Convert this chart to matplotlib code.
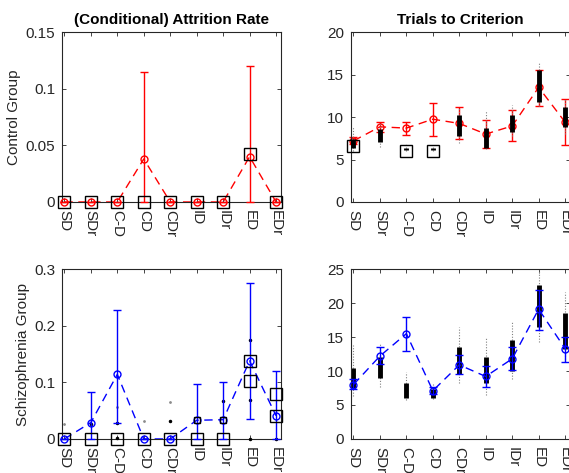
import numpy as np
import matplotlib
matplotlib.use('Agg')
from matplotlib import pyplot as plt
from matplotlib.ticker import FormatStrFormatter

plt.rcParams['font.family'] = ['Liberation Sans', 'DejaVu Sans']
plt.rcParams['font.size'] = 10

cats = ['SD', 'SDr', 'C-D', 'CD', 'CDr', 'ID', 'IDr', 'ED', 'EDr']
x = np.arange(1, len(cats) + 1)

# control group, attrition rate
ctrl_rate_mean = [0, 0, 0, 0.038, 0, 0, 0, 0.040, 0]
ctrl_rate_lo = [0, 0, 0, 0, 0, 0, 0, 0, 0]
ctrl_rate_hi = [0, 0, 0, 0.115, 0, 0, 0, 0.120, 0]
ctrl_rate_obs = [0, 0, 0, 0, 0, 0, 0, 0.042, 0]

# schizophrenia group, attrition rate
scz_rate_mean = [0, 0.029, 0.114, 0, 0, 0.033, 0.034, 0.138, 0.041]
scz_rate_lo = [0, 0, 0.029, 0, 0, 0, 0, 0.035, 0]
scz_rate_hi = [0, 0.083, 0.228, 0, 0, 0.097, 0.100, 0.275, 0.120]
scz_rate_obs_x = [1, 2, 3, 4, 5, 6, 7, 8, 8, 9, 9]
scz_rate_obs_y = [0, 0, 0, 0, 0, 0, 0, 0.138, 0.103, 0.080, 0.041]
scz_rate_small_x = [6, 7]
scz_rate_small_y = [0.033, 0.034]
scz_dot_x = [2, 3, 5, 7, 8, 8, 8, 9, 3]
scz_dot_y = [0.027, 0.029, 0.032, 0.067, 0.174, 0.068, 0.0, 0.0, 0.002]
scz_grey_x = [1, 3, 4, 5]
scz_grey_y = [0.027, 0.057, 0.032, 0.065]

# control group, trials to criterion
ctrl_tr_mean = [7.2, 8.85, 8.7, 9.75, 9.25, 8.0, 8.95, 13.5, 9.4]
ctrl_tr_lo = [6.8, 8.2, 7.9, 7.8, 7.4, 6.3, 7.2, 11.3, 6.7]
ctrl_tr_hi = [7.6, 9.4, 9.45, 11.7, 11.15, 9.7, 10.8, 15.6, 12.1]
ctrl_tr_obs_x = [1, 3, 4]
ctrl_tr_obs_y = [6.6, 6.0, 6.0]
ctrl_core_lo = [6.3, 7.1, 6.1, 6.1, 7.8, 6.4, 8.2, 11.8, 8.8]
ctrl_core_hi = [7.4, 8.6, 6.4, 6.3, 10.2, 8.7, 10.2, 15.5, 11.2]
ctrl_tail_lo = [6.0, 6.5, 6.0, 6.0, 7.0, 6.2, 7.8, 11.3, 8.0]
ctrl_tail_hi = [8.9, 9.3, 6.9, 6.7, 11.2, 10.7, 11.4, 16.5, 12.3]

# schizophrenia group, trials to criterion
scz_tr_mean = [8.0, 12.2, 15.5, 7.1, 10.9, 9.2, 11.8, 19.1, 13.3]
scz_tr_lo = [7.3, 11.0, 13.0, 6.6, 9.5, 7.7, 10.1, 16.1, 11.4]
scz_tr_hi = [8.8, 13.6, 17.9, 7.6, 12.4, 10.7, 13.5, 21.9, 15.0]
scz_core_lo = [7.5, 9.0, 6.0, 6.1, 9.5, 8.3, 10.0, 16.5, 13.3]
scz_core_hi = [10.5, 12.0, 8.2, 7.3, 13.5, 12.0, 14.5, 22.6, 18.5]
scz_tail_lo = [6.3, 7.6, 5.8, 5.9, 8.2, 6.5, 8.8, 14.3, 11.4]
scz_tail_hi = [13.8, 14.0, 9.9, 8.2, 16.5, 14.8, 17.3, 25.0, 21.7]

fig = plt.figure(figsize=(5.69, 4.73), dpi=100)
ax1 = fig.add_axes([0.109, 0.573, 0.385, 0.359])
ax2 = fig.add_axes([0.617, 0.573, 0.385, 0.359])
ax3 = fig.add_axes([0.109, 0.072, 0.385, 0.359])
ax4 = fig.add_axes([0.617, 0.072, 0.385, 0.359])


def err(ax, mean, lo, hi, col, z=4):
    yerr = [np.array(mean) - np.array(lo), np.array(hi) - np.array(mean)]
    ax.errorbar(x, mean, yerr=yerr, fmt='o', color=col, mfc='none', ms=5,
                mew=1, elinewidth=1, capsize=3, capthick=1.2, zorder=z,
                clip_on=False)
    ax.plot(x, mean, '--', color=col, lw=1, dashes=(6, 4), zorder=z)


def cloud(ax, clo, chi, tlo, thi, z):
    ax.vlines(x, tlo, thi, colors='0.5', linestyles=(0, (1, 1.5)), lw=0.8, zorder=z)
    ax.vlines(x, clo, chi, colors='k', lw=3.5, zorder=z)


def squares(ax, xs, ys, size=8):
    ax.plot(xs, ys, 's', mfc='none', mec='k', ms=size, mew=1, zorder=5,
            clip_on=False)


def style(ax, ylim, yt, fmt=None):
    ax.set_xlim(0.91, 9.19)
    ax.set_ylim(ylim)
    ax.set_yticks(yt)
    if fmt:
        ax.yaxis.set_major_formatter(FormatStrFormatter(fmt))
    ax.set_xticks(x)
    ax.set_xticklabels(cats, rotation=-90, va='top', fontsize=11)
    ax.tick_params(direction='in', top=True, right=True, length=3,
                   width=0.6, colors='0.15', labelcolor='0.15', pad=3)
    ax.tick_params(axis='x', pad=6)
    ax.tick_params(axis='y', labelsize=11, pad=5)
    for s in ax.spines.values():
        s.set_color('0.15')
        s.set_linewidth(0.8)


# top left
err(ax1, ctrl_rate_mean, ctrl_rate_lo, ctrl_rate_hi, 'r')
squares(ax1, x, ctrl_rate_obs)
style(ax1, (0, 0.15), [0, 0.05, 0.1, 0.15], '%g')
ax1.set_title('(Conditional) Attrition Rate', fontsize=11, fontweight='bold', pad=6)
ax1.set_ylabel('Control Group', fontsize=11, color='0.15', labelpad=3)

# top right
err(ax2, ctrl_tr_mean, ctrl_tr_lo, ctrl_tr_hi, 'r', z=2)
cloud(ax2, ctrl_core_lo, ctrl_core_hi, ctrl_tail_lo, ctrl_tail_hi, 3)
squares(ax2, ctrl_tr_obs_x, ctrl_tr_obs_y)
style(ax2, (0, 20), [0, 5, 10, 15, 20])
ax2.set_title('Trials to Criterion', fontsize=11, fontweight='bold', pad=6)

# bottom left
err(ax3, scz_rate_mean, scz_rate_lo, scz_rate_hi, 'b')
ax3.plot(scz_grey_x, scz_grey_y, '.', color='0.55', ms=2, zorder=3)
ax3.plot(scz_dot_x, scz_dot_y, '.', color='k', ms=3, zorder=3, clip_on=False)
squares(ax3, scz_rate_obs_x, scz_rate_obs_y)
squares(ax3, scz_rate_small_x, scz_rate_small_y, size=5)
style(ax3, (0, 0.3), [0, 0.1, 0.2, 0.3], '%g')
ax3.set_ylabel('Schizophrenia Group', fontsize=11, color='0.15', labelpad=3)

# bottom right
cloud(ax4, scz_core_lo, scz_core_hi, scz_tail_lo, scz_tail_hi, 2)
err(ax4, scz_tr_mean, scz_tr_lo, scz_tr_hi, 'b', z=4)
style(ax4, (0, 25), [0, 5, 10, 15, 20, 25])

fig.savefig('out.png', dpi=100)
